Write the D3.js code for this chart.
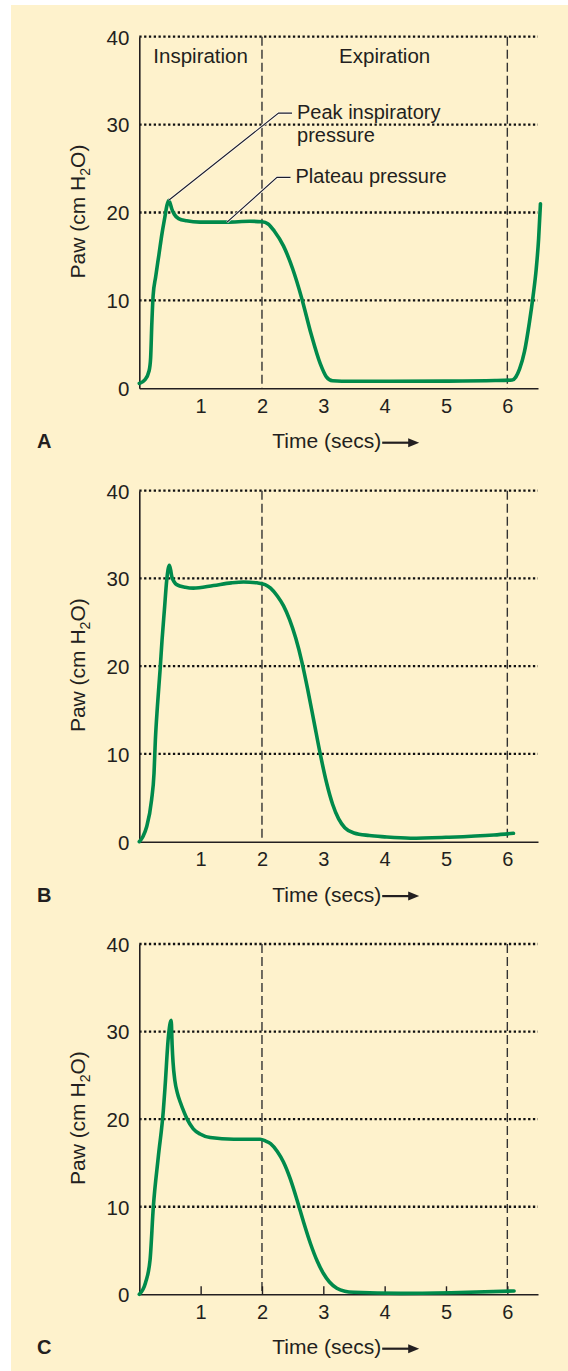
<!DOCTYPE html>
<html><head><meta charset="utf-8">
<script src="https://cdn.jsdelivr.net/npm/d3@7"></script>
<style>body{margin:0;background:#fff}text{font-family:"Liberation Sans",Arial,sans-serif;fill:#231f20}</style>
</head><body><svg id="c" width="568" height="1371"></svg>
<script>
// ---- data ----
const xTicks = [1, 2, 3, 4, 5, 6];
const yTicks = [0, 10, 20, 30, 40];
const gridLevels = [10, 20, 30, 40];
const phaseBounds = [0, 2, 6];
const phaseLabels = ["Inspiration", "Expiration"];
const panelLetters = ["A", "B", "C"];

const timeA = [0, 0.09, 0.16, 0.185, 0.205, 0.225, 0.267, 0.32, 0.37, 0.42, 0.45, 0.48, 0.50, 0.53, 0.57, 0.64, 0.77, 0.99, 1.43, 1.8, 2.0, 2.1, 2.2, 2.35, 2.5, 2.65, 2.8, 2.95, 3.05, 3.15, 3.3, 4.0, 5.0, 5.8, 6.08, 6.14, 6.2, 6.28, 6.36, 6.42, 6.47, 6.51, 6.54];
const pawA  = [0.55, 0.95, 2.0, 3.5, 7.5, 10.5, 12.7, 15.2, 17.6, 19.6, 20.8, 21.4, 21.1, 20.4, 19.8, 19.3, 19.05, 18.9, 18.9, 19.0, 18.95, 18.7, 17.9, 16.2, 13.6, 10.2, 6.2, 2.8, 1.3, 0.85, 0.8, 0.8, 0.82, 0.88, 0.95, 1.3, 2.2, 4.2, 7.5, 10.5, 13.5, 17.0, 21.0];

const timeB = [0, 0.06, 0.12, 0.2, 0.24, 0.262, 0.295, 0.338, 0.371, 0.41, 0.447, 0.49, 0.51, 0.53, 0.57, 0.61, 0.75, 0.88, 1.21, 1.5, 1.7, 1.92, 2.05, 2.14, 2.25, 2.35, 2.45, 2.55, 2.65, 2.75, 2.85, 2.95, 3.05, 3.15, 3.25, 3.35, 3.5, 3.75, 4.0, 4.42, 5.0, 5.78, 6.1];
const pawB  = [0, 0.6, 1.7, 4.75, 7.8, 11.6, 15.4, 19.5, 23.0, 26.5, 29.8, 31.5, 31.0, 30.2, 29.6, 29.3, 29.0, 28.9, 29.2, 29.5, 29.6, 29.5, 29.3, 28.9, 28.0, 26.9, 25.3, 23.2, 20.5, 17.2, 13.6, 10.0, 6.8, 4.3, 2.6, 1.6, 1.0, 0.7, 0.55, 0.4, 0.5, 0.76, 0.96];

const timeC = [0, 0.1, 0.175, 0.229, 0.31, 0.392, 0.42, 0.474, 0.52, 0.535, 0.55, 0.58, 0.62, 0.67, 0.73, 0.78, 0.88, 0.99, 1.155, 1.54, 1.97, 2.06, 2.14, 2.25, 2.35, 2.46, 2.57, 2.68, 2.79, 2.9, 3.0, 3.1, 3.22, 3.35, 3.5, 4.26, 5.08, 6.11];
const pawC  = [0, 1.3, 3.9, 10.0, 15.7, 21.0, 23.7, 29.4, 31.3, 28.5, 26.5, 24.4, 23.0, 21.9, 20.8, 20.0, 18.9, 18.3, 17.9, 17.7, 17.7, 17.5, 17.2, 16.3, 15.1, 13.2, 10.8, 8.2, 5.8, 3.8, 2.4, 1.4, 0.69, 0.35, 0.23, 0.11, 0.18, 0.38];

const annoTexts = [["Peak inspiratory", "pressure"], ["Plateau pressure"]];
const annoTargets = [[0.48, 21.4], [1.43, 18.9]];   // data points the leaders point to
const annoElbows = [[2.27, 31.3], [2.245, 24.0]];   // leader elbows (data units)

// ---- layout ----
const svg = d3.select("#c");
const W = 568, H = 1371;
svg.append("rect").attr("x", 11).attr("y", 5).attr("width", W - 11).attr("height", H - 5).attr("fill", "#fef2cc");

const panelTop = [36.7, 490.7, 944];
const panelBottom = [388.3, 841.7, 1294.3];
const series = [[timeA, pawA], [timeB, pawB], [timeC, pawC]];
const x = d3.scaleLinear().domain([0, 6.5]).range([139.3, 538]);
const green = "#008a4b";
const ink = "#231f20";

panelLetters.forEach((letter, i) => {
  const y = d3.scaleLinear().domain([0, 40]).range([panelBottom[i], panelTop[i]]);
  const g = svg.append("g");

  // dotted gridlines
  g.selectAll(".grid").data(gridLevels).join("line")
    .attr("x1", x(0)).attr("x2", x(6.5))
    .attr("y1", d => y(d)).attr("y2", d => y(d))
    .attr("stroke", "#111").attr("stroke-width", 2.3).attr("stroke-dasharray", "2.3,2.5");

  // dashed phase lines
  g.selectAll(".phase").data(phaseBounds.slice(1)).join("line")
    .attr("x1", d => x(d)).attr("x2", d => x(d))
    .attr("y1", y(40)).attr("y2", y(0))
    .attr("stroke", "#333").attr("stroke-width", 1.4).attr("stroke-dasharray", "9,4");

  // y axis
  const ya = g.append("g").attr("transform", `translate(${x(0)},0)`)
    .call(d3.axisLeft(y).tickValues(yTicks).tickFormat(d3.format("d")).tickSize(0).tickPadding(10));
  ya.select(".domain").attr("stroke", ink).attr("stroke-width", 1.6);
  ya.selectAll("text").style("font-size", "20.5px").style("fill", ink).attr("dy", "0.36em");

  // x axis
  const xAxis = d3.axisBottom(x).tickValues(xTicks).tickFormat(d3.format("d")).tickSizeOuter(0).tickPadding(10.5);
  xAxis.tickSizeInner(i === 2 ? -8 : 0);
  const xa = g.append("g").attr("transform", `translate(0,${y(0)})`).call(xAxis);
  xa.select(".domain").attr("stroke", ink).attr("stroke-width", 1.6);
  xa.selectAll(".tick line").attr("stroke", ink).attr("stroke-width", 1.4);
  xa.selectAll("text").style("font-size", "20px").style("fill", ink);
  if (i === 2) xa.selectAll(".tick text").attr("y", 10.5);

  // curve
  const [ts, ps] = series[i];
  const line = d3.line().x(d => x(d[0])).y(d => y(d[1])).curve(d3.curveMonotoneX);
  g.append("path").datum(ts.map((t, k) => [t, ps[k]]))
    .attr("d", line).attr("fill", "none").attr("stroke", green)
    .attr("stroke-width", 3.6).attr("stroke-linejoin", "round").attr("stroke-linecap", "round");

  // y title
  const yt = g.append("text")
    .attr("transform", `translate(85,${(y(0) + y(40)) / 2 - 1}) rotate(-90)`)
    .attr("text-anchor", "middle").style("font-size", "21px");
  yt.append("tspan").text("Paw (cm H");
  yt.append("tspan").style("font-size", "14px").attr("dy", 5).text("2");
  yt.append("tspan").attr("dy", -5).text("O)");

  // x title with arrow
  const xt = g.append("text").attr("x", 272.3).attr("y", y(0) + 60).style("font-size", "21px").text("Time (secs)");
  const tl = xt.node().getComputedTextLength();
  const ax0 = 272.3 + tl + 1, ax1 = ax0 + 37, ay = y(0) + 54.4;
  g.append("line").attr("x1", ax0).attr("x2", ax1 - 8).attr("y1", ay).attr("y2", ay)
    .attr("stroke", ink).attr("stroke-width", 2.2);
  g.append("path").attr("d", `M${ax1},${ay}L${ax1 - 11},${ay - 4.5}L${ax1 - 11},${ay + 4.5}Z`).attr("fill", ink);

  // panel letter
  g.append("text").attr("x", 37).attr("y", y(0) + 60).style("font-size", "20px").attr("font-weight", "bold").text(letter);

  if (i === 0) {
    // phase labels
    g.selectAll(".ph").data(phaseLabels).join("text")
      .attr("x", (d, k) => (x(phaseBounds[k]) + x(phaseBounds[k + 1])) / 2)
      .attr("y", y(40) + 26.6).attr("text-anchor", "middle").style("font-size", "20.5px").text(d => d);

    // annotations
    annoTexts.forEach((lines, k) => {
      const [tx, ty] = annoTargets[k];
      const [ex, ey] = annoElbows[k];
      const ex2 = x(ex) + 13.5;
      const d = `M${x(tx)},${y(ty)}L${x(ex)},${y(ey)}H${ex2}`;
      g.append("path").attr("d", d)
        .attr("fill", "none").attr("stroke", "#fff").attr("stroke-width", 2.6).attr("opacity", 0.7);
      g.append("path").attr("d", d)
        .attr("fill", "none").attr("stroke", "#1d1d2b").attr("stroke-width", 1.1);
      lines.forEach((s, j) => {
        g.append("text").attr("x", ex2 + 5).attr("y", y(ey) + 6 + j * 23.2)
          .style("font-size", "20px").text(s);
      });
    });
  }
});
</script></body></html>
